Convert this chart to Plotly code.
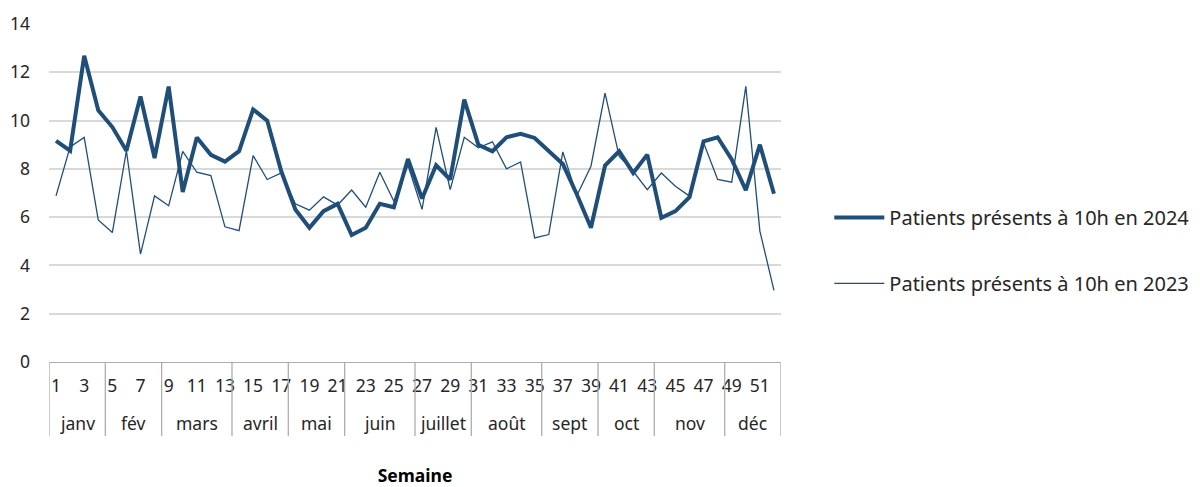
import plotly.graph_objects as go

weeks = list(range(1, 53))
week_labels = [str(w) if w % 2 == 1 else "" for w in weeks]

months = ["janv", "fév", "mars", "avril", "mai", "juin", "juillet",
          "août", "sept", "oct", "nov", "déc"]
month_first_week = [1, 5, 9, 14, 18, 22, 27, 31, 36, 40, 44, 49]
month_last_week = [4, 8, 13, 17, 21, 26, 30, 35, 39, 43, 48, 52]

patients_2024 = [9.16, 8.75, 12.68, 10.43, 9.73, 8.75, 11.0, 8.45, 11.41, 7.04,
                 9.3, 8.58, 8.3, 8.73, 10.46, 10.0, 7.9, 6.32, 5.56, 6.25,
                 6.55, 5.26, 5.56, 6.55, 6.41, 8.41, 6.77, 8.15, 7.56, 10.87,
                 9.0, 8.73, 9.31, 9.45, 9.28, 8.76, 8.2, 6.94, 5.56, 8.14,
                 8.73, 7.83, 8.59, 5.97, 6.25, 6.83, 9.14, 9.31, 8.39, 7.12, 9.0, 6.97]
patients_2023 = [6.88, 8.91, 9.3, 5.88, 5.36, 8.75, 4.47, 6.88, 6.47, 8.72,
                 7.86, 7.72, 5.6, 5.44, 8.55, 7.56, 7.83, 6.55, 6.29, 6.84,
                 6.5, 7.12, 6.41, 7.86, 6.66, 8.15, 6.32, 9.72, 7.14, 9.31,
                 8.87, 9.12, 8.0, 8.29, 5.14, 5.28, 8.7, 6.9, 8.11, 11.14,
                 8.52, 7.9, 7.14, 7.83, 7.28, 6.87, 9.08, 7.56, 7.45, 11.42, 5.42, 2.97]

series_names = ["Patients présents à 10h en 2024", "Patients présents à 10h en 2023"]

LINE_COLOR = "#1F4E79"
TEXT_COLOR = "#262626"
DIV_COLOR = "#ADADAD"
FONT = "Noto Sans"

fig = go.Figure()
fig.add_trace(go.Scatter(x=weeks, y=patients_2024, mode="lines", name=series_names[0],
                         line=dict(color=LINE_COLOR, width=4), legendgroup="a"))
fig.add_trace(go.Scatter(x=weeks, y=patients_2023, mode="lines", name=series_names[1],
                         line=dict(color=LINE_COLOR, width=1.3), legendgroup="b"))

# month group dividers and labels
bounds = [month_first_week[0] - 0.5] + [w + 0.5 for w in month_last_week]
for b in bounds:
    fig.add_shape(type="line", xref="x", yref="paper", x0=b, x1=b, y0=0, y1=-0.219,
                  line=dict(color=DIV_COLOR, width=1.3))
for m, a, z in zip(months, month_first_week, month_last_week):
    fig.add_annotation(x=(a + z) / 2, y=-0.18, xref="x", yref="paper", text=m,
                       showarrow=False, yanchor="middle",
                       font=dict(family=FONT, size=17.5, color=TEXT_COLOR))

fig.update_layout(
    width=1192, height=479,
    margin=dict(l=41, r=419, t=16, b=125, autoexpand=False),
    paper_bgcolor="white", plot_bgcolor="white",
    font=dict(family=FONT, size=17.5, color=TEXT_COLOR),
    showlegend=True,
    legend=dict(x=1.066, y=0.33, xanchor="left", yanchor="middle",
                font=dict(family=FONT, size=20, color=TEXT_COLOR),
                tracegroupgap=37, itemwidth=50, bgcolor="rgba(0,0,0,0)"),
    xaxis=dict(range=[0.5, 52.5], tickmode="array", tickvals=weeks, ticktext=week_labels,
               showgrid=False, zeroline=False, showline=True, linecolor=DIV_COLOR,
               linewidth=1.3, ticks="", tickfont=dict(size=17.5, color=TEXT_COLOR),
               ticklabelstandoff=8, automargin=False,
               title=dict(text="<b>Semaine</b>", font=dict(size=17.5, color="black"), standoff=77)),
    yaxis=dict(range=[0, 14], dtick=2, showgrid=True, gridcolor="#D9D9D9", gridwidth=1.5,
               zeroline=False, showline=False, ticks="", automargin=False,
               tickfont=dict(size=17.5, color=TEXT_COLOR), ticklabelstandoff=18),
)

fig.write_html("out.html")
